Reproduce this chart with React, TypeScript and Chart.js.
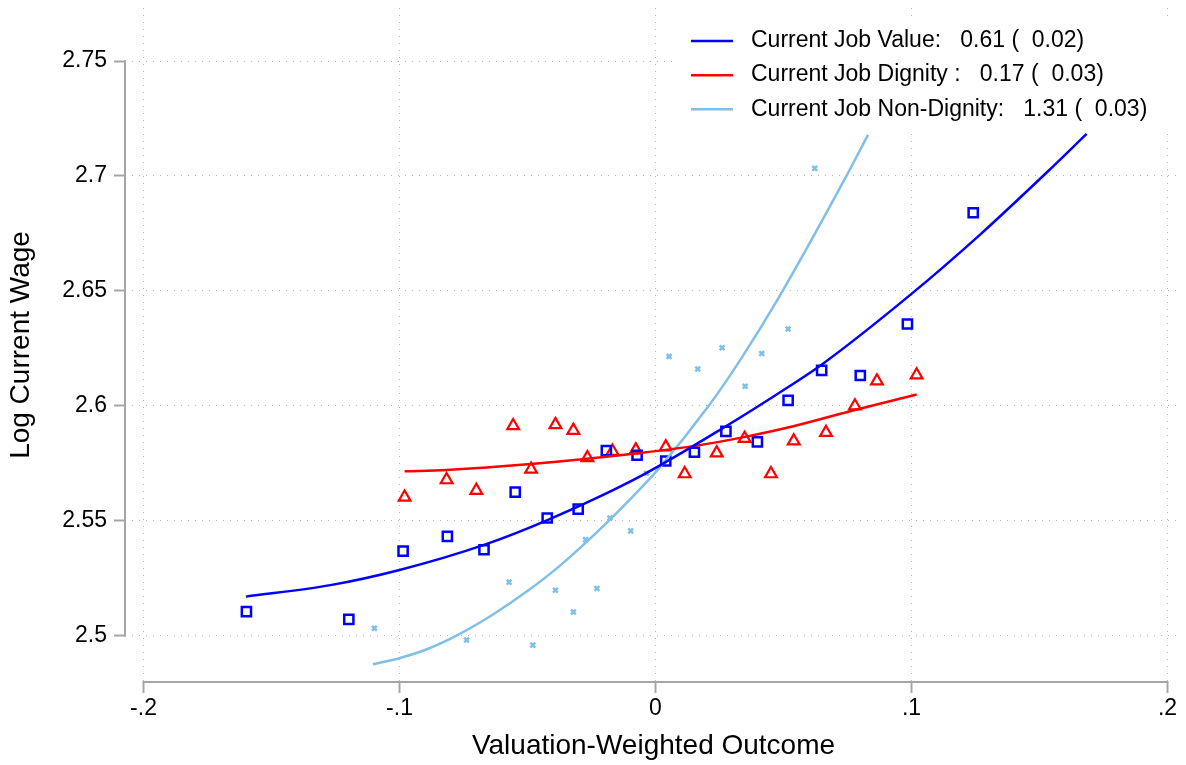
import React, { useEffect, useRef } from "react";
import { Chart, registerables } from "chart.js";

Chart.register(...registerables);

// binned means
const valueX = [-0.1598, -0.1198, -0.0986, -0.0813, -0.067, -0.0548, -0.0423, -0.0302, -0.0192, -0.0072, 0.004, 0.0152, 0.0275, 0.0398, 0.0518, 0.0649, 0.08, 0.0984, 0.1241];
const valueY = [2.5105, 2.5071, 2.5368, 2.5432, 2.5374, 2.5625, 2.5512, 2.5551, 2.5805, 2.5785, 2.576, 2.5798, 2.5889, 2.5843, 2.6024, 2.6154, 2.6132, 2.6356, 2.684];

const dignityX = [-0.098, -0.0816, -0.07, -0.0556, -0.0486, -0.0391, -0.0321, -0.0266, -0.0168, -0.0077, 0.004, 0.0114, 0.0239, 0.0348, 0.0451, 0.054, 0.0666, 0.0779, 0.0865, 0.102];
const dignityY = [2.5602, 2.5678, 2.5632, 2.5913, 2.5724, 2.5918, 2.5893, 2.5774, 2.5802, 2.5808, 2.5821, 2.5704, 2.5795, 2.5858, 2.5704, 2.5847, 2.5884, 2.5999, 2.6108, 2.6134];

const nonDignityX = [-0.1098, -0.0738, -0.0572, -0.0479, -0.0391, -0.0321, -0.0273, -0.0229, -0.0178, -0.0097, -0.0035, 0.0053, 0.0165, 0.026, 0.035, 0.0415, 0.0518, 0.0622];
const nonDignityY = [2.5032, 2.4981, 2.5233, 2.4959, 2.5198, 2.5103, 2.5418, 2.5205, 2.5512, 2.5456, 2.5707, 2.6215, 2.616, 2.6253, 2.6085, 2.6228, 2.6334, 2.7033];

// fitted curves
const valueFitX = [-0.16, -0.127, -0.1, -0.067, -0.042, -0.006, 0.0275, 0.052, 0.065, 0.1001, 0.1268, 0.1528, 0.1684];
const valueFitY = [2.517, 2.522, 2.5286, 2.5395, 2.5504, 2.5693, 2.5911, 2.6083, 2.618, 2.6488, 2.6745, 2.7015, 2.7183];

const dignityFitX = [-0.098, -0.0817, -0.0486, -0.0061, 0.0167, 0.035, 0.0538, 0.0786, 0.102];
const dignityFitY = [2.5715, 2.5721, 2.5747, 2.5795, 2.5828, 2.5865, 2.5911, 2.5984, 2.6049];

const nonDignityFitX = [-0.1104, -0.0998, -0.0893, -0.0764, -0.0635, -0.0502, -0.0373, -0.0189, -0.0061, 0.0006, 0.0213, 0.033, 0.0475, 0.0748, 0.083];
const nonDignityFitY = [2.4876, 2.4903, 2.4941, 2.5008, 2.5092, 2.5193, 2.5305, 2.5493, 2.5638, 2.5718, 2.6008, 2.6198, 2.6459, 2.7005, 2.7179];

const seriesLabels = [
  "Current Job Value:   0.61 (  0.02)",
  "Current Job Dignity :   0.17 (  0.03)",
  "Current Job Non-Dignity:   1.31 (  0.03)",
];
const seriesColors = ["#0000ff", "#ff0000", "#7fbfe8"];

const xTicks = [-0.2, -0.1, 0, 0.1, 0.2];
const xTickLabels = ["-.2", "-.1", "0", ".1", ".2"];
const yTicks = [2.5, 2.55, 2.6, 2.65, 2.7, 2.75];
const yTickLabels = ["2.5", "2.55", "2.6", "2.65", "2.7", "2.75"];

const FONT = '"Liberation Sans", Arial, Helvetica, sans-serif';
const AXIS_GRAY = "#a6a6a6";
const GRID_GRAY = "#b4b4b4";

const pts = (xs: number[], ys: number[]) => xs.map((x, i) => ({ x, y: ys[i] }));

// Stata-style axes: lines only span the labelled range
const axisLines = {
  id: "axisLines",
  beforeDatasetsDraw(chart: any) {
    const { ctx, chartArea, scales } = chart;
    const x = scales.x;
    const y = scales.y;
    ctx.save();
    ctx.strokeStyle = AXIS_GRAY;
    ctx.lineWidth = 2;
    ctx.beginPath();
    ctx.moveTo(chartArea.left, y.getPixelForValue(yTicks[0]) + 1);
    ctx.lineTo(chartArea.left, y.getPixelForValue(yTicks[yTicks.length - 1]) - 1);
    ctx.moveTo(x.getPixelForValue(xTicks[0]) - 1, chartArea.bottom);
    ctx.lineTo(x.getPixelForValue(xTicks[xTicks.length - 1]) + 1, chartArea.bottom);
    ctx.stroke();
    ctx.restore();
  },
};

// legend box in the top right corner, white background over the grid
const stataLegend = {
  id: "stataLegend",
  beforeDatasetsDraw(chart: any) {
    const { ctx } = chart;
    ctx.save();
    ctx.fillStyle = "#ffffff";
    ctx.fillRect(672, 17, chart.width - 672, 115);
    ctx.font = "23px " + FONT;
    ctx.textBaseline = "middle";
    ctx.textAlign = "left";
    seriesLabels.forEach((label, i) => {
      const yy = 41 + i * 34.15;
      ctx.strokeStyle = seriesColors[i];
      ctx.lineWidth = 2.5;
      ctx.beginPath();
      ctx.moveTo(691, yy);
      ctx.lineTo(733, yy);
      ctx.stroke();
      ctx.fillStyle = "#000000";
      ctx.fillText(label, 751, yy);
    });
    ctx.restore();
  },
};

const App = () => {
  const canvasRef = useRef<HTMLCanvasElement>(null);
  const chartRef = useRef<Chart | null>(null);

  useEffect(() => {
    const canvas = canvasRef.current;
    if (!canvas) return;
    if (chartRef.current) chartRef.current.destroy();

    const lineDs = (xs: number[], ys: number[], i: number) => ({
      type: "line" as const,
      label: seriesLabels[i],
      data: pts(xs, ys),
      borderColor: seriesColors[i],
      backgroundColor: seriesColors[i],
      borderWidth: 2.5,
      pointRadius: 0,
      fill: false,
      cubicInterpolationMode: "monotone" as const,
    });

    chartRef.current = new Chart(canvas, {
      type: "scatter",
      data: {
        datasets: [
          lineDs(valueFitX, valueFitY, 0),
          lineDs(dignityFitX, dignityFitY, 1),
          lineDs(nonDignityFitX, nonDignityFitY, 2),
          {
            label: "value bins",
            data: pts(valueX, valueY),
            pointStyle: "rect",
            pointRadius: 6.5,
            pointBorderWidth: 2.5,
            pointBorderColor: seriesColors[0],
            pointBackgroundColor: "rgba(0,0,0,0)",
          },
          {
            label: "dignity bins",
            data: pts(dignityX, dignityY),
            pointStyle: "triangle",
            pointRadius: 6.8,
            pointBorderWidth: 2.2,
            pointBorderColor: seriesColors[1],
            pointBackgroundColor: "rgba(0,0,0,0)",
          },
          {
            label: "non-dignity bins",
            data: pts(nonDignityX, nonDignityY),
            pointStyle: "crossRot",
            pointRadius: 3.4,
            pointBorderWidth: 2.5,
            pointBorderColor: seriesColors[2],
            pointBackgroundColor: seriesColors[2],
          },
        ],
      },
      options: {
        responsive: true,
        maintainAspectRatio: false,
        animation: false,
        events: [],
        layout: { autoPadding: false, padding: { top: 8, right: 4, left: 0, bottom: 0 } },
        plugins: {
          legend: { display: false },
          tooltip: { enabled: false },
        },
        scales: {
          x: {
            type: "linear",
            min: -0.20723,
            max: 0.20566,
            afterBuildTicks: (scale: any) => {
              scale.ticks = xTicks.map((v) => ({ value: v }));
            },
            afterFit: (scale: any) => {
              scale.height = 83;
              scale.paddingLeft = 0;
              scale.paddingRight = 0;
            },
            ticks: {
              autoSkip: false,
              maxRotation: 0,
              padding: 2,
              color: "#000",
              font: { size: 23, family: FONT },
              callback: (_v: any, i: number) => xTickLabels[i],
            },
            grid: {
              color: GRID_GRAY,
              lineWidth: 1,
              tickLength: 11,
              tickWidth: 2,
              tickColor: AXIS_GRAY,
              tickBorderDash: [],
            },
            border: { display: false, dash: [1, 6] },
            title: {
              display: true,
              text: "Valuation-Weighted Outcome",
              color: "#000",
              font: { size: 28, family: FONT },
              padding: { top: 0, bottom: 2 },
            },
          },
          y: {
            type: "linear",
            min: 2.47986,
            max: 2.77306,
            afterBuildTicks: (scale: any) => {
              scale.ticks = yTicks.map((v) => ({ value: v }));
            },
            afterFit: (scale: any) => {
              scale.width = 125;
              scale.paddingTop = 0;
              scale.paddingBottom = 0;
            },
            ticks: {
              autoSkip: false,
              padding: 7,
              color: "#000",
              font: { size: 23, family: FONT },
              callback: (_v: any, i: number) => yTickLabels[i],
            },
            grid: {
              color: GRID_GRAY,
              lineWidth: 1,
              tickLength: 11,
              tickWidth: 2,
              tickColor: AXIS_GRAY,
              tickBorderDash: [],
            },
            border: { display: false, dash: [1, 6] },
            title: {
              display: true,
              text: "Log Current Wage",
              color: "#000",
              font: { size: 28, family: FONT },
              padding: { top: 4, bottom: 0 },
            },
          },
        },
      },
      plugins: [axisLines, stataLegend],
    } as any);

    return () => {
      chartRef.current?.destroy();
      chartRef.current = null;
    };
  }, []);

  return (
    <div style={{ position: "fixed", left: 0, top: 0, width: "1186px", height: "765px", background: "#fff" }}>
      <canvas ref={canvasRef} />
    </div>
  );
};

export default App;
